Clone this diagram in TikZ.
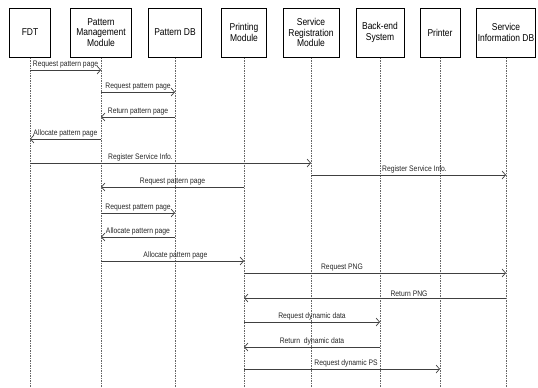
\documentclass[tikz,border=0pt]{standalone}
\usepackage{fontspec}
\setmainfont{Liberation Sans}
\newfontfamily\narrowfont[FakeStretch=0.85]{Liberation Sans}
\usetikzlibrary{arrows.meta, calc}

\tikzset{
	obj/.style={draw, line width=1bp, minimum height=49bp, align=center, inner sep=1bp, font=\narrowfont\fontsize{10}{10.5}\selectfont},
	life/.style={draw=black!60, line width=0.45bp, dash pattern=on 1.5bp off 1bp},
	msg/.style={draw=black!75, line width=0.7bp, -{Straight Barb[length=3.5bp,width=8bp]}},
	lbl/.style={above, inner sep=1.5bp, text=black!85, font=\narrowfont\fontsize{8}{9}\selectfont},
}

\begin{document}
\begin{tikzpicture}[x=1bp, y=-1bp]
		\useasboundingbox (0,0) rectangle (538,387);
		\node[obj, minimum width=40bp] (fdt) at (30,32.5) {FDT};
		\node[obj, minimum width=61bp] (pmm) at (101,32.5) {Pattern\\Management\\Module};
		\node[obj, minimum width=53bp] (pdb) at (175,32.5) {Pattern DB};
		\node[obj, minimum width=45bp] (prm) at (244,32.5) {Printing\\Module};
		\node[obj, minimum width=56bp] (srm) at (311,32.5) {Service\\Registration\\Module};
		\node[obj, minimum width=48bp] (bes) at (380,32.5) {Back-end\\System};
		\node[obj, minimum width=40bp] (prt) at (440,32.5) {Printer};
		\node[obj, minimum width=58bp] (sidb) at (506,32.5) {Service\\Information DB};

		\coordinate (bottom) at (0,387);
		\foreach \n in {fdt, pmm, pdb, prm, srm, bes, prt, sidb}
			\draw[life] (\n.south) -- (\n |- bottom);

		% pattern page request
		\draw[msg] (fdt |- 0,70) -- (pmm |- 0,70) node[lbl, midway] {Request pattern page};
		\draw[msg] (pmm |- 0,92) -- (pdb |- 0,92) node[lbl, midway] {Request pattern page};
		\draw[msg] (pdb |- 0,117) -- (pmm |- 0,117) node[lbl, midway] {Return pattern page};
		\draw[msg] (pmm |- 0,139) -- (fdt |- 0,139) node[lbl, midway] {Allocate pattern page};

		% service registration
		\draw[msg] (fdt |- 0,163) -- (srm |- 0,163) node[lbl, midway, xshift=-30bp] {Register Service Info.};
		\draw[msg] (srm |- 0,175) -- (sidb |- 0,175) node[lbl, midway, xshift=6bp] {Register Service Info.};

		% printing
		\draw[msg] (prm |- 0,187) -- (pmm |- 0,187) node[lbl, midway] {Request pattern page};
		\draw[msg] (pmm |- 0,213) -- (pdb |- 0,213) node[lbl, midway] {Request pattern page};
		\draw[msg] (pdb |- 0,237) -- (pmm |- 0,237) node[lbl, midway] {Allocate pattern page};
		\draw[msg] (pmm |- 0,261) -- (prm |- 0,261) node[lbl, midway, xshift=3bp] {Allocate pattern page};
		\draw[msg] (prm |- 0,273) -- (sidb |- 0,273) node[lbl, midway, xshift=-33bp] {Request PNG};
		\draw[msg] (sidb |- 0,298) -- (prm |- 0,298) node[lbl, midway, xshift=34bp] {Return PNG};
		\draw[msg] (prm |- 0,322) -- (bes |- 0,322) node[lbl, midway] {Request dynamic data};
		\draw[msg] (bes |- 0,347) -- (prm |- 0,347) node[lbl, midway] {Return~ dynamic data};
		\draw[msg] (prm |- 0,369) -- (prt |- 0,369) node[lbl, midway, xshift=4bp] {Request dynamic PS};
\end{tikzpicture}
\end{document}
